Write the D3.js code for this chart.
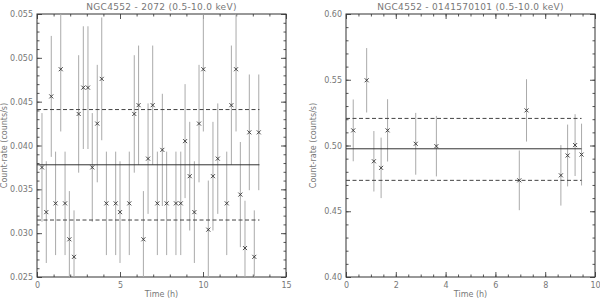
<!DOCTYPE html>
<html>
<head>
<meta charset="utf-8">
<script src="https://cdn.jsdelivr.net/npm/d3@7"></script>
<style>
  body { margin: 0; background: #fff; }
  text { font-family: "DejaVu Sans", sans-serif; fill: #777; }
  .axis path { display: none; }
  .axis line { stroke: #555; }
</style>
</head>
<body>
<svg width="600" height="300"></svg>
<script>
// --- left panel: NGC4552 - 2072
var timeA = [0.30, 0.56, 0.86, 1.12, 1.43, 1.69, 1.95, 2.23, 2.51, 2.79, 3.07, 3.33, 3.63, 3.90, 4.18,
  4.74, 5.00, 5.56, 5.86, 6.12, 6.41, 6.69, 6.97, 7.25, 7.55, 7.81, 8.37, 8.66, 8.92, 9.20, 9.48,
  9.76, 10.02, 10.32, 10.60, 10.89, 11.43, 11.71, 11.99, 12.25, 12.53, 12.79, 13.09, 13.36];
var rateA = [0.0375, 0.0324, 0.0456, 0.0334, 0.0487, 0.0334, 0.0293, 0.0273, 0.0436, 0.0466, 0.0466, 0.0375, 0.0425, 0.0476, 0.0334,
  0.0334, 0.0324, 0.0334, 0.0436, 0.0446, 0.0293, 0.0385, 0.0446, 0.0334, 0.0395, 0.0334, 0.0334, 0.0334, 0.0405, 0.0365, 0.0324,
  0.0425, 0.0487, 0.0304, 0.0365, 0.0385, 0.0334, 0.0446, 0.0487, 0.0344, 0.0283, 0.0415, 0.0273, 0.0415];
var errA = [0.0062, 0.0058, 0.0069, 0.0059, 0.0071, 0.0059, 0.0055, 0.0053, 0.0067, 0.0070, 0.0070, 0.0062, 0.0067, 0.0070, 0.0059,
  0.0059, 0.0058, 0.0059, 0.0067, 0.0068, 0.0055, 0.0063, 0.0068, 0.0059, 0.0064, 0.0059, 0.0059, 0.0059, 0.0065, 0.0062, 0.0058,
  0.0067, 0.0071, 0.0056, 0.0062, 0.0063, 0.0059, 0.0068, 0.0071, 0.0060, 0.0054, 0.0066, 0.0053, 0.0066];
var meanA = 0.0378, bandA = [0.0441, 0.0315], endA = 13.4;

// --- right panel: NGC4552 - 0141570101
var timeB = [0.29, 0.83, 1.12, 1.41, 1.67, 2.80, 3.63, 6.96, 7.25, 8.63, 8.90, 9.20, 9.46];
var rateB = [0.5115, 0.5496, 0.4880, 0.4830, 0.5115, 0.5013, 0.4995, 0.4735, 0.5267, 0.4773, 0.4924, 0.5003, 0.4931];
var errB = [0.0235, 0.0245, 0.0230, 0.0230, 0.0237, 0.0235, 0.0230, 0.0227, 0.0237, 0.0230, 0.0235, 0.0235, 0.0235];
var meanB = 0.4975, bandB = [0.5206, 0.4735], endB = 9.46;

var svg = d3.select("svg"),
  width = 249,
  height = 263;

function panel(id, left, o) {
  var g = svg.append("g").attr("transform", "translate(" + left + ",14)");
  var x = d3.scaleLinear().domain(o.xDomain).range([0, width]),
    y = d3.scaleLinear().domain(o.yDomain).range([height, 0]);

  g.append("clipPath").attr("id", id).append("rect").attr("width", width).attr("height", height);

  // minor ticks on all four sides
  var minorX = d3.range(o.xDomain[0], o.xDomain[1] + 1e-9, o.xMinor),
    minorY = d3.range(o.yDomain[0], o.yDomain[1] + 1e-9, o.yMinor);
  g.append("g").attr("class", "axis").attr("transform", "translate(0," + height + ")")
    .call(d3.axisBottom(x).tickValues(minorX).tickSize(-2.5).tickFormat(""));
  g.append("g").attr("class", "axis")
    .call(d3.axisTop(x).tickValues(minorX).tickSize(-2.5).tickFormat(""));
  g.append("g").attr("class", "axis")
    .call(d3.axisLeft(y).tickValues(minorY).tickSize(-2.5).tickFormat(""));
  g.append("g").attr("class", "axis").attr("transform", "translate(" + width + ",0)")
    .call(d3.axisRight(y).tickValues(minorY).tickSize(-2.5).tickFormat(""));

  // major ticks
  var majorX = d3.range(o.xDomain[0], o.xDomain[1] + 1e-9, o.xMajor),
    majorY = d3.range(o.yDomain[0], o.yDomain[1] + 1e-9, o.yMajor);
  g.append("g").attr("class", "axis").attr("transform", "translate(0," + height + ")")
    .call(d3.axisBottom(x).tickValues(majorX).tickSize(-5).tickPadding(5).tickFormat(d3.format("d")))
    .selectAll("text").style("font-size", "8px").style("fill", "#777");
  g.append("g").attr("class", "axis")
    .call(d3.axisTop(x).tickValues(majorX).tickSize(-5).tickFormat(""));
  g.append("g").attr("class", "axis")
    .call(d3.axisLeft(y).tickValues(majorY).tickSize(-5).tickPadding(4).tickFormat(d3.format(o.yFormat)))
    .selectAll("text").style("font-size", "8px").style("fill", "#777");
  g.append("g").attr("class", "axis").attr("transform", "translate(" + width + ",0)")
    .call(d3.axisRight(y).tickValues(majorY).tickSize(-5).tickFormat(""));

  // frame
  g.append("rect").attr("width", width).attr("height", height)
    .attr("fill", "none").attr("stroke", "#333").attr("stroke-width", 1);

  var pts = o.time.map(function(t, i) { return {t: t, v: o.rate[i], e: o.err[i]}; });

  // error bars
  g.append("g").attr("clip-path", "url(#" + id + ")")
    .selectAll("line").data(pts).enter().append("line")
    .attr("x1", d => x(d.t)).attr("x2", d => x(d.t))
    .attr("y1", d => y(d.v + d.e)).attr("y2", d => y(d.v - d.e))
    .attr("stroke", "#aaa").attr("stroke-width", 1);

  // mean and +-1 sigma lines
  g.append("line").attr("x1", x(0)).attr("x2", x(o.end))
    .attr("y1", y(o.mean)).attr("y2", y(o.mean))
    .attr("stroke", "#333").attr("stroke-width", 1);
  g.selectAll(".band").data(o.band).enter().append("line")
    .attr("class", "band")
    .attr("x1", x(0)).attr("x2", x(o.end))
    .attr("y1", d => y(d)).attr("y2", d => y(d))
    .attr("stroke", "#444").attr("stroke-width", 1).attr("stroke-dasharray", "4,2.5");

  // x markers
  g.selectAll(".pt").data(pts).enter().append("path")
    .attr("class", "pt")
    .attr("d", d => {
      var cx = x(d.t), cy = y(d.v), s = 2;
      return "M" + (cx - s) + "," + (cy - s) + "L" + (cx + s) + "," + (cy + s) +
        "M" + (cx - s) + "," + (cy + s) + "L" + (cx + s) + "," + (cy - s);
    })
    .attr("stroke", "#333").attr("stroke-width", 0.9).attr("fill", "none");

  // labels
  svg.append("text").attr("x", left + width / 2).attr("y", 10).attr("text-anchor", "middle")
    .style("font-size", "9px").style("letter-spacing", "0.3px").text(o.title);
  svg.append("text").attr("x", left + width / 2).attr("y", 297).attr("text-anchor", "middle")
    .style("font-size", "8px").text("Time (h)");
  svg.append("text").attr("transform", "translate(" + (left - 30) + "," + (14 + height / 2) + ") rotate(-90)")
    .attr("text-anchor", "middle").style("font-size", "8px").text("Count-rate (counts/s)");
}

panel("clipA", 37, {
  xDomain: [0, 15], xMajor: 5, xMinor: 1,
  yDomain: [0.025, 0.055], yMajor: 0.005, yMinor: 0.001, yFormat: ".3f",
  time: timeA, rate: rateA, err: errA, mean: meanA, band: bandA, end: endA,
  title: "NGC4552 - 2072 (0.5-10.0 keV)"
});

panel("clipB", 346, {
  xDomain: [0, 10], xMajor: 2, xMinor: 0.5,
  yDomain: [0.40, 0.60], yMajor: 0.05, yMinor: 0.01, yFormat: ".2f",
  time: timeB, rate: rateB, err: errB, mean: meanB, band: bandB, end: endB,
  title: "NGC4552 - 0141570101 (0.5-10.0 keV)"
});
</script>
</body>
</html>
